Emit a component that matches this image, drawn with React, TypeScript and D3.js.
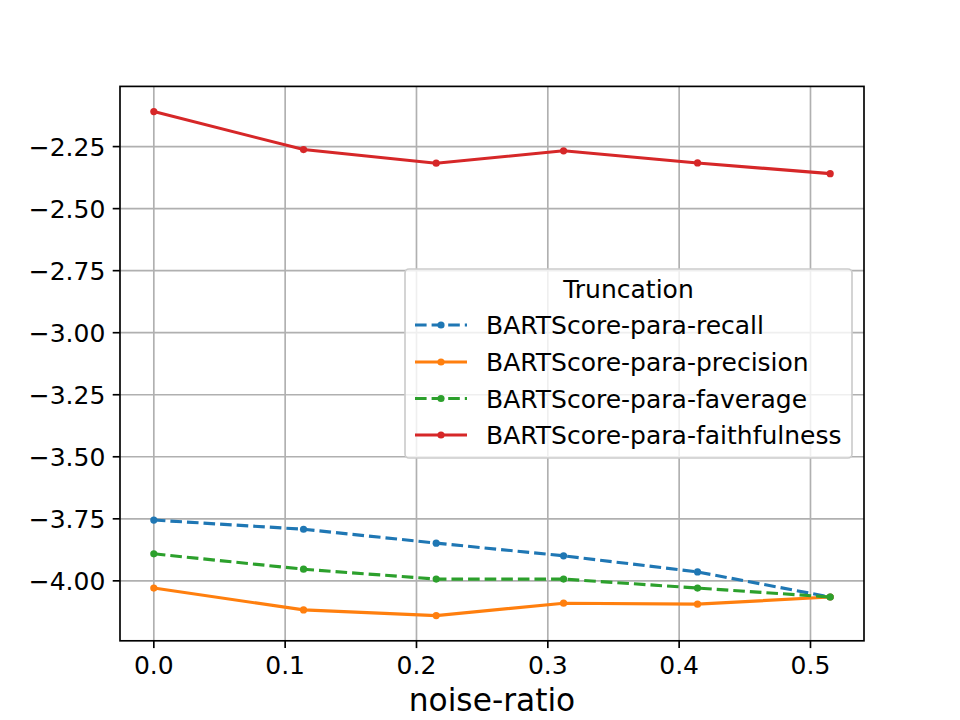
import React from "react";
import * as d3 from "d3";

const noiseRatio = [0, 0.114, 0.215, 0.312, 0.414, 0.515];
const seriesNames = [
  "BARTScore-para-recall",
  "BARTScore-para-precision",
  "BARTScore-para-faverage",
  "BARTScore-para-faithfulness",
];
const recall = [-3.755, -3.792, -3.848, -3.899, -3.964, -4.065];
const precision = [-4.029, -4.117, -4.14, -4.09, -4.094, -4.065];
const faverage = [-3.891, -3.953, -3.993, -3.993, -4.029, -4.065];
const faithfulness = [-2.109, -2.262, -2.317, -2.267, -2.316, -2.359];
const xTicks = [0, 0.1, 0.2, 0.3, 0.4, 0.5];
const yTicks = [-4.0, -3.75, -3.5, -3.25, -3.0, -2.75, -2.5, -2.25];
const colors = ["#1f77b4", "#ff7f0e", "#2ca02c", "#d62728"];
const dashed = [true, false, true, false];

const W = 960;
const H = 720;
const L = 120;
const R = 864;
const T = 86.4;
const B = 640.8;
const FONT = "DejaVu Sans, sans-serif";
const FS = 25;

export default function App() {
  const all = [recall, precision, faverage, faithfulness];
  const xExt = d3.extent(noiseRatio) as [number, number];
  const xPad = (xExt[1] - xExt[0]) * 0.05;
  const yExt = d3.extent(all.flat()) as [number, number];
  const yPad = (yExt[1] - yExt[0]) * 0.05;
  const x = d3.scaleLinear().domain([xExt[0] - xPad, xExt[1] + xPad]).range([L, R]);
  const y = d3.scaleLinear().domain([yExt[0] - yPad, yExt[1] + yPad]).range([B, T]);
  const line = d3
    .line<number>()
    .x((_, i) => x(noiseRatio[i]))
    .y((d) => y(d));
  const fmtY = (v: number) => (v < 0 ? "\u2212" : "") + Math.abs(v).toFixed(2);

  const legX = 405;
  const legY = 269;
  const legW = 447;
  const legH = 189;
  const rowYs = [325, 362, 398.5, 435];

  return (
    <svg width={W} height={H} style={{ position: "absolute", left: 0, top: 0 }} fontFamily={FONT}>
      <rect x={0} y={0} width={W} height={H} fill="#fff" />
      {xTicks.map((t) => (
        <line key={"gx" + t} x1={x(t)} x2={x(t)} y1={T} y2={B} stroke="#b0b0b0" strokeWidth={1.67} />
      ))}
      {yTicks.map((t) => (
        <line key={"gy" + t} x1={L} x2={R} y1={y(t)} y2={y(t)} stroke="#b0b0b0" strokeWidth={1.67} />
      ))}
      {all.map((s, k) => (
        <g key={"s" + k}>
          <path
            d={line(s) || ""}
            fill="none"
            stroke={colors[k]}
            strokeWidth={3.125}
            strokeDasharray={dashed[k] ? "11.6 5" : undefined}
            strokeLinecap="butt"
          />
          {s.map((v, i) => (
            <circle key={i} cx={x(noiseRatio[i])} cy={y(v)} r={3.6} fill={colors[k]} />
          ))}
        </g>
      ))}
      <rect x={L} y={T} width={R - L} height={B - T} fill="none" stroke="#000" strokeWidth={1.67} />
      {xTicks.map((t) => (
        <g key={"xt" + t}>
          <line x1={x(t)} x2={x(t)} y1={B} y2={B + 7.3} stroke="#000" strokeWidth={1.67} />
          <text x={x(t)} y={673.5} fontSize={FS} textAnchor="middle" fill="#000">
            {t.toFixed(1)}
          </text>
        </g>
      ))}
      {yTicks.map((t) => (
        <g key={"yt" + t}>
          <line x1={L - 7.3} x2={L} y1={y(t)} y2={y(t)} stroke="#000" strokeWidth={1.67} />
          <text x={L - 14.6} y={y(t)} dy="0.36em" fontSize={FS} textAnchor="end" fill="#000">
            {fmtY(t)}
          </text>
        </g>
      ))}
      <text x={(L + R) / 2} y={711} fontSize={31.25} textAnchor="middle" fill="#000">
        noise-ratio
      </text>
      <rect
        x={legX}
        y={legY}
        width={legW}
        height={legH}
        rx={4}
        fill="#fff"
        fillOpacity={0.8}
        stroke="#cccccc"
        strokeWidth={1.67}
      />
      <text x={legX + legW / 2} y={289} dy="0.36em" fontSize={FS} textAnchor="middle" fill="#000">
        Truncation
      </text>
      {seriesNames.map((n, k) => (
        <g key={"lg" + k}>
          <line
            x1={415}
            x2={467}
            y1={rowYs[k]}
            y2={rowYs[k]}
            stroke={colors[k]}
            strokeWidth={3.125}
            strokeDasharray={dashed[k] ? "11.6 5" : undefined}
          />
          <circle cx={441} cy={rowYs[k]} r={3.6} fill={colors[k]} />
          <text x={486} y={rowYs[k]} dy="0.36em" fontSize={FS} fill="#000">
            {n}
          </text>
        </g>
      ))}
    </svg>
  );
}
